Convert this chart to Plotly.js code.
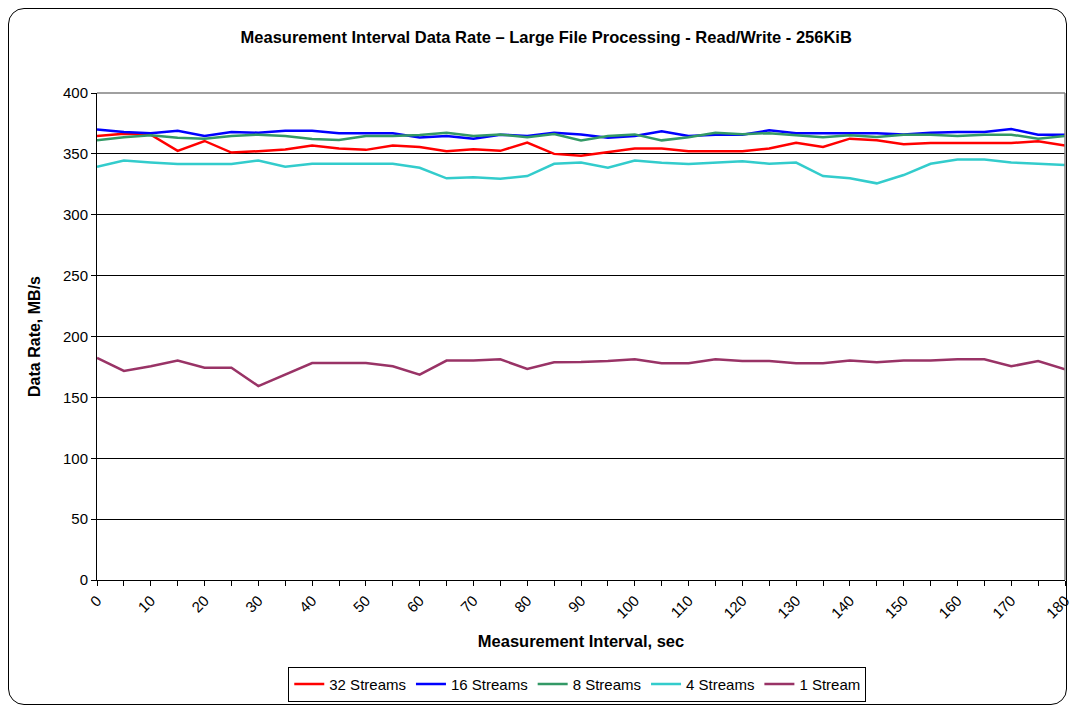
<!DOCTYPE html>
<html>
<head>
<meta charset="utf-8">
<script src="https://cdn.plot.ly/plotly-3.0.1.min.js"></script>
<style>
  html, body { margin: 0; padding: 0; background: #fff; overflow: hidden; }
  #chart { width: 1071px; height: 706px; }
  #frame { position: absolute; left: 8px; top: 8px; width: 1059px; height: 697px;
           border: 1px solid #000; border-radius: 16px; pointer-events: none; box-sizing: border-box; }
</style>
</head>
<body>
<div id="chart"></div>
<div id="frame"></div>
<script>
const intervals = [0,5,10,15,20,25,30,35,40,45,50,55,60,65,70,75,80,85,90,95,100,105,110,115,120,125,130,135,140,145,150,155,160,165,170,175,180];

const streams32 = [364.7,366.6,365.8,352.5,360.6,351.1,352.2,353.5,356.8,354.4,353.3,356.8,355.7,352.2,353.8,352.5,359.2,350.0,348.4,351.1,354.4,354.4,352.2,352.2,352.2,354.4,359.2,355.7,362.5,361.1,357.9,359.0,359.0,359.0,359.0,360.3,356.8];
const streams16 = [370.1,368.0,367.0,369.0,364.7,368.0,367.4,369.0,369.0,367.0,367.0,367.0,363.5,364.7,362.5,365.8,364.7,367.4,366.0,363.3,364.7,368.5,364.7,365.8,365.8,369.3,367.0,367.0,367.0,367.0,366.0,367.4,368.0,368.0,370.4,365.8,365.8];
const streams8  = [361.1,363.6,365.2,363.3,362.5,364.7,365.8,364.7,362.2,361.4,364.7,364.7,365.5,367.4,364.7,366.0,363.6,366.3,361.1,364.7,366.0,361.1,363.6,367.4,366.2,367.0,365.2,363.6,365.2,363.9,365.8,365.8,364.7,365.8,365.8,362.5,364.7];
const streams4  = [339.4,344.6,342.9,341.6,341.6,341.6,344.6,339.4,341.9,341.9,341.9,341.9,338.6,329.9,330.7,329.6,331.8,341.9,342.9,338.6,344.6,342.7,341.6,342.7,344.0,341.9,342.9,331.8,329.9,325.8,332.6,341.9,345.4,345.4,342.9,341.9,340.8];
const streams1  = [182.4,171.7,175.5,180.2,174.4,174.4,159.3,168.9,178.2,178.2,178.2,175.5,168.6,180.2,180.2,181.3,173.3,178.8,179.0,179.9,181.3,178.0,178.0,181.3,179.9,179.9,178.0,178.0,180.2,178.8,180.2,180.2,181.3,181.3,175.5,179.9,173.0];

const seriesNames = ["32 Streams","16 Streams","8 Streams","4 Streams","1 Stream"];
const seriesColors = ["#FF0000","#0000FF","#339966","#33CCCC","#993366"];
const seriesValues = [streams32, streams16, streams8, streams4, streams1];

const yTicks = [0,50,100,150,200,250,300,350,400];
const xTickLabels = [0,10,20,30,40,50,60,70,80,90,100,110,120,130,140,150,160,170,180];

const font = "Liberation Sans, Arial, sans-serif";

const traces = seriesValues.map((vals, i) => ({
  x: intervals, y: vals, type: "scatter", mode: "lines",
  name: seriesNames[i], line: { color: seriesColors[i], width: 2.5 }
}));

const layout = {
  width: 1071, height: 706,
  margin: { l: 97, r: 6, t: 93, b: 126 },
  paper_bgcolor: "#fff", plot_bgcolor: "#fff",
  font: { family: font, size: 15, color: "#000" },
  title: { text: "<b>Measurement Interval Data Rate – Large File Processing - Read/Write - 256KiB</b>",
           font: { family: font, size: 16.5, color: "#000" },
           x: 0.51, xanchor: "center", y: 0.947, yanchor: "middle", yref: "container" },
  xaxis: {
    range: [0, 180], tickmode: "array", tickvals: xTickLabels, ticktext: xTickLabels.map(String),
    tickangle: -45, ticks: "outside", ticklen: 5, tickcolor: "#000", ticklabeloverflow: "allow",
    minor: { tickvals: intervals, ticks: "outside", ticklen: 5, tickcolor: "#000" },
    showgrid: false, zeroline: false, showline: true, linecolor: "#000", linewidth: 1,
    tickfont: { family: font, size: 15, color: "#000" },
    title: { text: "<b>Measurement Interval, sec</b>", font: { family: font, size: 16.5, color: "#000" }, standoff: 14 },
    automargin: false, fixedrange: true
  },
  yaxis: {
    range: [0, 400], tickmode: "array", tickvals: yTicks, ticks: "outside", ticklen: 5, tickcolor: "#000",
    showgrid: true, gridcolor: "#000", gridwidth: 1, zeroline: false,
    showline: true, linecolor: "#000", linewidth: 1,
    tickfont: { family: font, size: 15, color: "#000" },
    title: { text: "<b>Data Rate, MB/s</b>", font: { family: font, size: 16, color: "#000" }, standoff: 18 },
    automargin: false, fixedrange: true
  },
  shapes: [
    { type: "line", xref: "paper", yref: "paper", x0: 0, x1: 1, y0: 1, y1: 1, line: { color: "#808080", width: 1.5 } },
    { type: "line", xref: "paper", yref: "paper", x0: 1, x1: 1, y0: 0, y1: 1, line: { color: "#808080", width: 1.5 } }
  ],
  showlegend: true,
  legend: {
    orientation: "h", x: 0.539, xref: "container", xanchor: "center",
    y: 0.0555, yref: "container", yanchor: "top",
    bordercolor: "#000", borderwidth: 1, bgcolor: "#fff",
    font: { family: font, size: 15, color: "#000" },
    itemwidth: 30, tracegroupgap: 0
  }
};

Plotly.newPlot("chart", traces, layout, { displayModeBar: false, staticPlot: true });
</script>
</body>
</html>
